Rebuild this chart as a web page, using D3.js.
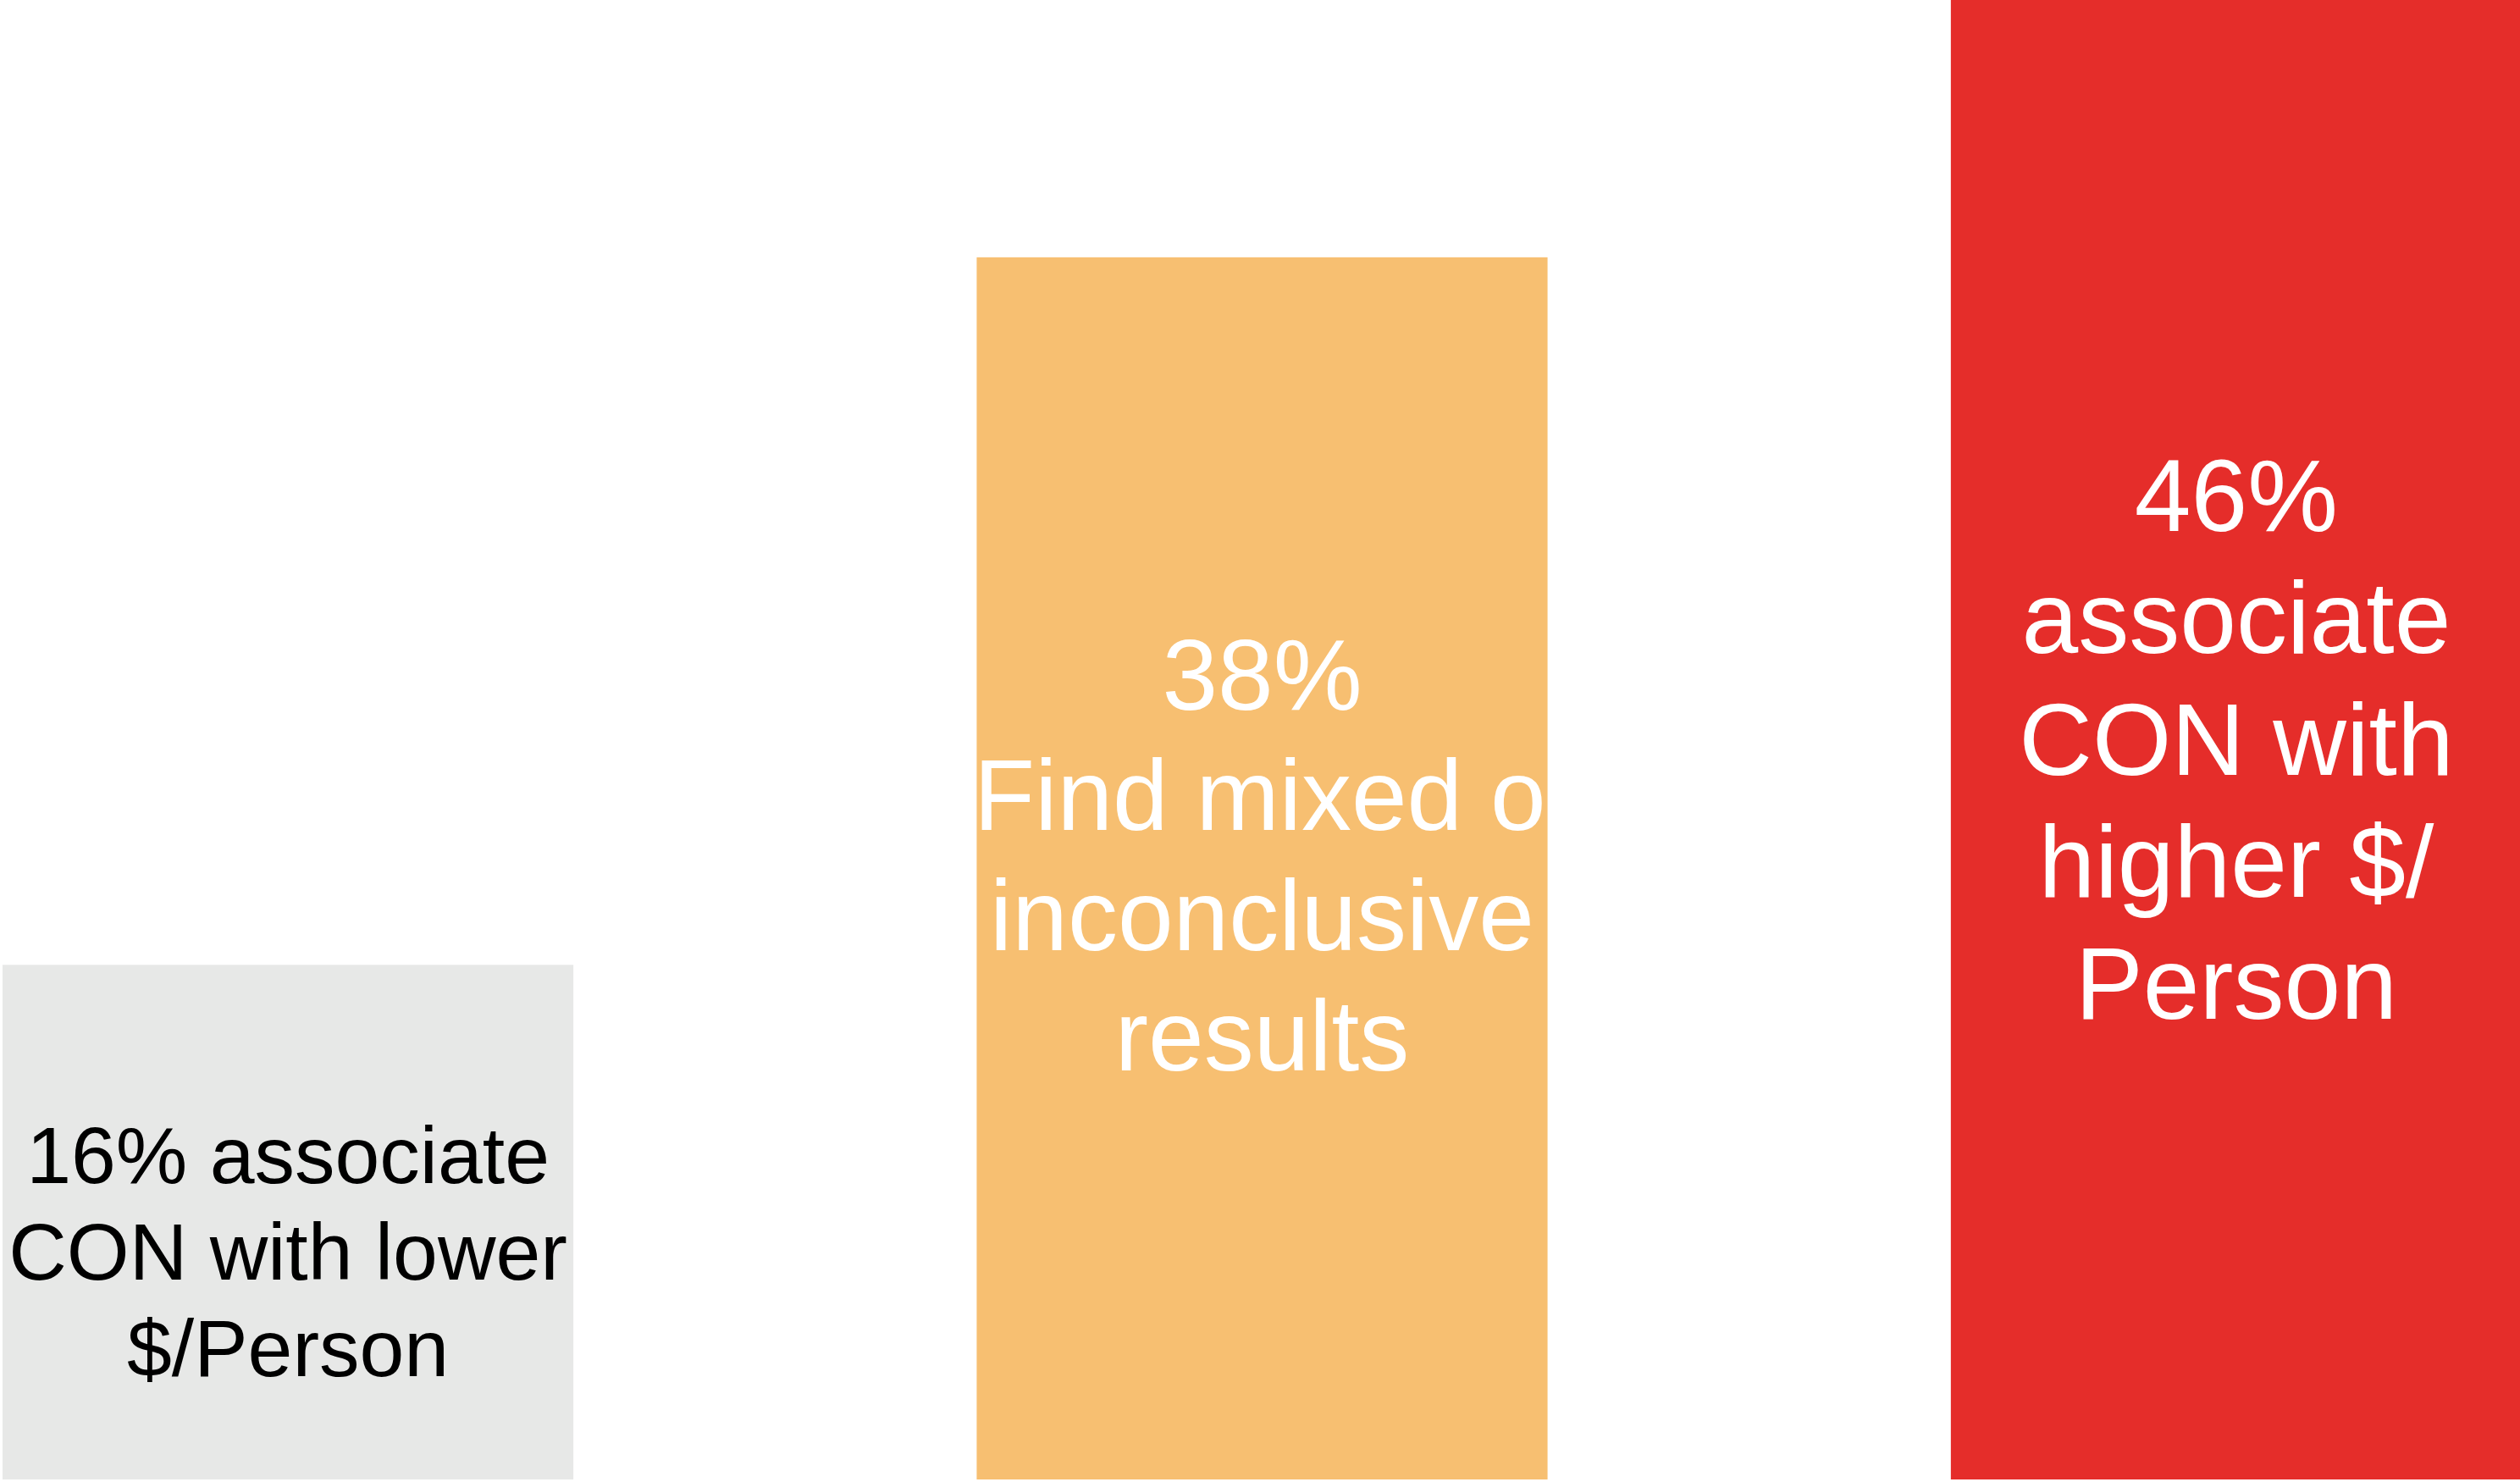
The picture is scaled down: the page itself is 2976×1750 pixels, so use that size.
<!DOCTYPE html>
<html>
<head>
<meta charset="utf-8">
<script src="https://cdn.jsdelivr.net/npm/d3@7"></script>
<style>
  html, body { margin: 0; padding: 0; background: #ffffff; }
  svg { display: block; }
</style>
</head>
<body>
<script>
// Survey outcome shares (percent of studies)
const categories = ["lower", "mixed", "higher"];
const values = [16, 38, 46];
const labelLines = [
  ["16% associate", "CON with lower", "$/Person"],
  ["38%", "Find mixed or", "inconclusive", "results"],
  ["46%", "associate", "CON with", "higher $/", "Person"]
];

// Label styling
const barColors = ["#e7e8e7", "#f7bf71", "#e52d2a"];
const textColors = ["#000000", "#ffffff", "#ffffff"];
const fontSizes = [95, 118, 120];
const lineHeights = [114, 142, 144];
// baseline of the first line, measured from the bar's vertical middle
const firstLineOffsets = [-46, -187, -247];
// horizontal nudge per line (the long line overflows its bar)
const lineShifts = [[0, 0, 0], [0, 17, 0, 0], [0, 0, 0, 0, 0]];

const W = 2976, H = 1750;
const bottom = 1747;

const svg = d3.select("body").append("svg")
  .attr("width", W).attr("height", H);

const x = d3.scaleBand()
  .domain(categories)
  .range([3, 2978])
  .paddingInner(0.414)
  .paddingOuter(0);

const y = d3.scaleLinear()
  .domain([0, d3.max(values)])
  .range([bottom, 0]);

const data = categories.map((c, i) => ({
  key: c, value: values[i], lines: labelLines[i],
  fill: barColors[i], color: textColors[i],
  size: fontSizes[i], lh: lineHeights[i], off: firstLineOffsets[i],
  shifts: lineShifts[i]
}));

svg.selectAll("rect.bar")
  .data(data)
  .join("rect")
  .attr("class", "bar")
  .attr("x", d => x(d.key))
  .attr("y", d => y(d.value))
  .attr("width", x.bandwidth())
  .attr("height", d => y(0) - y(d.value))
  .attr("fill", d => d.fill);

const labels = svg.selectAll("text.label")
  .data(data)
  .join("text")
  .attr("class", "label")
  .attr("text-anchor", "middle")
  .attr("font-family", "'Liberation Sans', Arial, Helvetica, sans-serif")
  .attr("font-size", d => d.size)
  .attr("fill", d => d.color);

labels.selectAll("tspan")
  .data(d => d.lines.map((t, j) => ({ t, j, d })))
  .join("tspan")
  .attr("x", o => x(o.d.key) + x.bandwidth() / 2 + o.d.shifts[o.j])
  .attr("y", o => (y(o.d.value) + y(0)) / 2 + o.d.off + o.j * o.d.lh)
  .text(o => o.t);
</script>
</body>
</html>
